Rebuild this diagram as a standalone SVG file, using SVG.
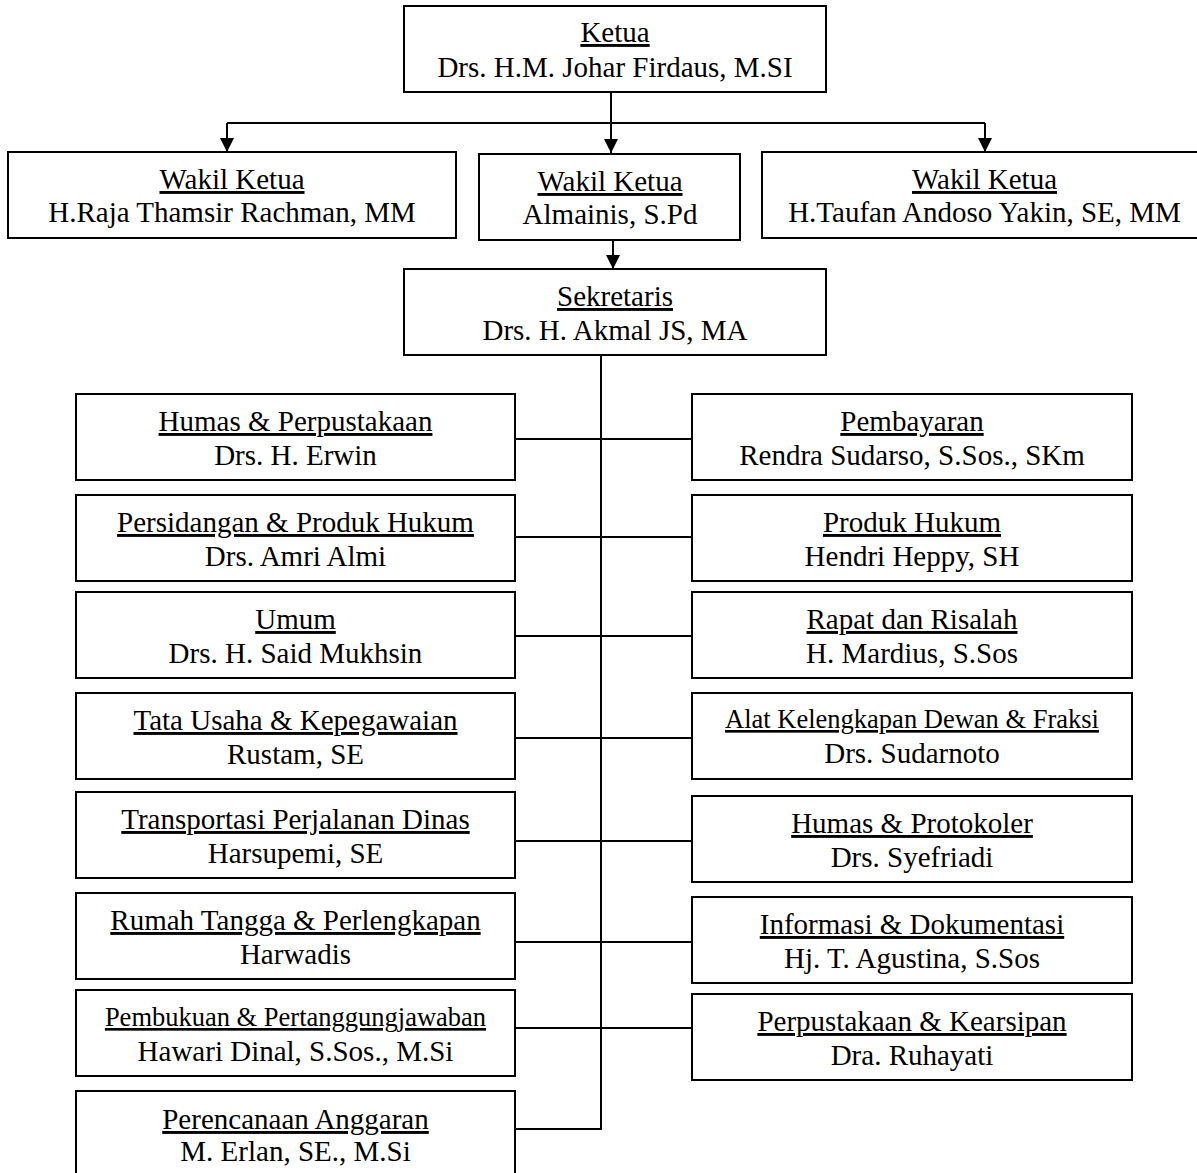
<svg xmlns="http://www.w3.org/2000/svg" width="1197" height="1173" viewBox="0 0 1197 1173">
<defs>
<style>
.box{fill:#fff;stroke:#000;stroke-width:2}
.ln{fill:none;stroke:#000;stroke-width:2}
text{font-family:"Liberation Serif","Times New Roman",serif;font-size:29px;fill:#000;text-anchor:middle}
.t{text-decoration:underline}
.s{font-size:26.5px}
</style>
<marker id="ah" viewBox="0 0 14 14" refX="14" refY="7" markerWidth="14" markerHeight="14" markerUnits="userSpaceOnUse" orient="auto">
<path d="M0,0 L14,7 L0,14 Z" fill="#000"/>
</marker>
</defs>
<rect width="1197" height="1173" fill="#fff"/>
<g id="connectors">
<path class="ln" d="M611,92 V123"/>
<path class="ln" d="M227,123 H985"/>
<path class="ln" d="M227,123 V152" marker-end="url(#ah)"/>
<path class="ln" d="M611,123 V153" marker-end="url(#ah)"/>
<path class="ln" d="M985,123 V152" marker-end="url(#ah)"/>
<path class="ln" d="M613,240 V269" marker-end="url(#ah)"/>
<path class="ln" d="M601,355 V1129 H515"/>
<path class="ln" d="M515,439 H692"/>
<path class="ln" d="M515,537 H692"/>
<path class="ln" d="M515,636 H692"/>
<path class="ln" d="M515,738 H692"/>
<path class="ln" d="M515,841 H692"/>
<path class="ln" d="M515,942 H692"/>
<path class="ln" d="M515,1028 H692"/>
</g>
<g id="ketua">
<rect class="box" x="404" y="6" width="422" height="86"/>
<text class="t" x="615" y="42">Ketua</text>
<text x="615" y="77">Drs. H.M. Johar Firdaus, M.SI</text>
</g>
<g id="wakil1">
<rect class="box" x="8" y="152" width="448" height="86"/>
<text class="t" x="232" y="189">Wakil Ketua</text>
<text x="232" y="222">H.Raja Thamsir Rachman, MM</text>
</g>
<g id="wakil2">
<rect class="box" x="479" y="154" width="261" height="86"/>
<text class="t" x="610" y="191">Wakil Ketua</text>
<text x="610" y="224">Almainis, S.Pd</text>
</g>
<g id="wakil3">
<rect class="box" x="762" y="152" width="445" height="86"/>
<text class="t" x="984.5" y="189">Wakil Ketua</text>
<text x="984.5" y="222">H.Taufan Andoso Yakin, SE, MM</text>
</g>
<g id="sekretaris">
<rect class="box" x="404" y="269" width="422" height="86"/>
<text class="t" x="615" y="306">Sekretaris</text>
<text x="615" y="340">Drs. H. Akmal JS, MA</text>
</g>
<g id="humas-perpustakaan">
<rect class="box" x="76" y="394" width="439" height="86"/>
<text class="t" x="295.5" y="431">Humas &amp; Perpustakaan</text>
<text x="295.5" y="465">Drs. H. Erwin</text>
</g>
<g id="persidangan">
<rect class="box" x="76" y="495" width="439" height="86"/>
<text class="t" x="295.5" y="532">Persidangan &amp; Produk Hukum</text>
<text x="295.5" y="566">Drs. Amri Almi</text>
</g>
<g id="umum">
<rect class="box" x="76" y="592" width="439" height="86"/>
<text class="t" x="295.5" y="629">Umum</text>
<text x="295.5" y="663">Drs. H. Said Mukhsin</text>
</g>
<g id="tata-usaha">
<rect class="box" x="76" y="693" width="439" height="86"/>
<text class="t" x="295.5" y="730">Tata Usaha &amp; Kepegawaian</text>
<text x="295.5" y="764">Rustam, SE</text>
</g>
<g id="transportasi">
<rect class="box" x="76" y="792" width="439" height="86"/>
<text class="t" x="295.5" y="829">Transportasi Perjalanan Dinas</text>
<text x="295.5" y="863">Harsupemi, SE</text>
</g>
<g id="rumah-tangga">
<rect class="box" x="76" y="893" width="439" height="86"/>
<text class="t" x="295.5" y="930">Rumah Tangga &amp; Perlengkapan</text>
<text x="295.5" y="964">Harwadis</text>
</g>
<g id="pembukuan">
<rect class="box" x="76" y="990" width="439" height="86"/>
<text class="t s" x="295.5" y="1026">Pembukuan &amp; Pertanggungjawaban</text>
<text x="295.5" y="1061">Hawari Dinal, S.Sos., M.Si</text>
</g>
<g id="perencanaan">
<rect class="box" x="76" y="1091" width="439" height="86"/>
<text class="t" x="295.5" y="1129">Perencanaan Anggaran</text>
<text x="295.5" y="1161">M. Erlan, SE., M.Si</text>
</g>
<g id="pembayaran">
<rect class="box" x="692" y="394" width="440" height="86"/>
<text class="t" x="912" y="431">Pembayaran</text>
<text x="912" y="465">Rendra Sudarso, S.Sos., SKm</text>
</g>
<g id="produk-hukum">
<rect class="box" x="692" y="495" width="440" height="86"/>
<text class="t" x="912" y="532">Produk Hukum</text>
<text x="912" y="566">Hendri Heppy, SH</text>
</g>
<g id="rapat">
<rect class="box" x="692" y="592" width="440" height="86"/>
<text class="t" x="912" y="629">Rapat dan Risalah</text>
<text x="912" y="663">H. Mardius, S.Sos</text>
</g>
<g id="alat-kelengkapan">
<rect class="box" x="692" y="693" width="440" height="86"/>
<text class="t s" x="912" y="728">Alat Kelengkapan Dewan &amp; Fraksi</text>
<text x="912" y="763">Drs. Sudarnoto</text>
</g>
<g id="humas-protokoler">
<rect class="box" x="692" y="796" width="440" height="86"/>
<text class="t" x="912" y="833">Humas &amp; Protokoler</text>
<text x="912" y="867">Drs. Syefriadi</text>
</g>
<g id="informasi">
<rect class="box" x="692" y="897" width="440" height="86"/>
<text class="t" x="912" y="934">Informasi &amp; Dokumentasi</text>
<text x="912" y="968">Hj. T. Agustina, S.Sos</text>
</g>
<g id="perpustakaan-kearsipan">
<rect class="box" x="692" y="994" width="440" height="86"/>
<text class="t" x="912" y="1031">Perpustakaan &amp; Kearsipan</text>
<text x="912" y="1065">Dra. Ruhayati</text>
</g>
</svg>
